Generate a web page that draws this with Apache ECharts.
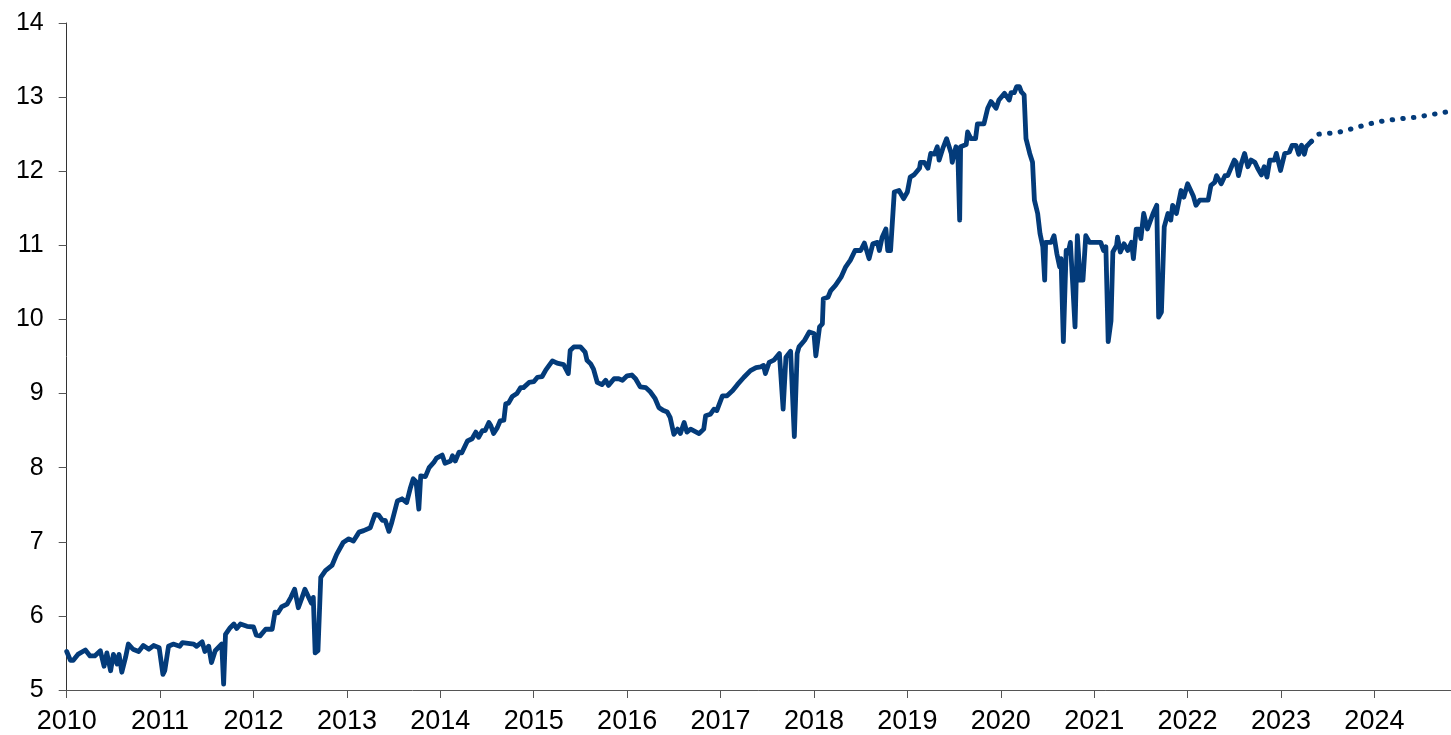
<!DOCTYPE html>
<html>
<head>
<meta charset="utf-8">
<script src="https://cdn.jsdelivr.net/npm/echarts@6/dist/echarts.min.js"></script>
<style>
html,body{margin:0;padding:0;background:#fff;}
#chart{width:1451px;height:735px;}
</style>
</head>
<body>
<div id="chart"></div>
<script>
// Actual series (decimal years and values)
const actualYears = [
2010.00,2010.04,2010.07,2010.12,2010.20,2010.25,2010.30,2010.36,2010.37,2010.40,2010.43,2010.47,2010.50,2010.54,2010.56,2010.59,2010.63,2010.66,2010.71,2010.77,2010.82,2010.88,2010.93,2010.99,
2011.03,2011.05,2011.09,2011.14,2011.21,2011.24,2011.36,2011.39,2011.45,2011.48,2011.52,2011.55,2011.59,2011.66,2011.68,2011.70,2011.75,2011.79,2011.82,2011.86,2011.93,
2012.00,2012.03,2012.07,2012.13,2012.20,2012.23,2012.26,2012.30,2012.36,2012.40,2012.44,2012.48,2012.52,2012.55,2012.59,2012.62,2012.64,2012.66,2012.69,2012.72,2012.77,2012.84,2012.89,2012.96,
2013.02,2013.07,2013.13,2013.18,2013.25,2013.30,2013.34,2013.38,2013.41,2013.45,2013.48,2013.54,2013.59,2013.64,2013.68,2013.71,2013.74,2013.77,2013.79,2013.84,2013.88,2013.93,2013.96,
2014.02,2014.05,2014.11,2014.13,2014.16,2014.20,2014.23,2014.29,2014.34,2014.38,2014.41,2014.45,2014.48,2014.52,2014.54,2014.57,2014.61,2014.64,2014.68,2014.70,2014.73,2014.77,2014.82,2014.86,2014.89,2014.95,
2015.00,2015.04,2015.09,2015.13,2015.20,2015.25,2015.32,2015.37,2015.39,2015.43,2015.50,2015.55,2015.57,2015.61,2015.64,2015.68,2015.73,2015.77,2015.80,2015.86,2015.91,2015.95,
2016.00,2016.05,2016.09,2016.14,2016.20,2016.25,2016.30,2016.34,2016.39,2016.43,2016.46,2016.50,2016.54,2016.57,2016.61,2016.64,2016.68,2016.71,2016.77,2016.82,2016.84,2016.89,2016.93,2016.96,
2017.02,2017.07,2017.13,2017.18,2017.25,2017.32,2017.38,2017.43,2017.46,2017.48,2017.52,2017.57,2017.63,2017.65,2017.67,2017.70,2017.75,2017.79,2017.82,2017.84,2017.90,2017.95,
2018.00,2018.02,2018.06,2018.09,2018.10,2018.15,2018.18,2018.23,2018.29,2018.34,2018.39,2018.44,2018.50,2018.54,2018.59,2018.63,2018.68,2018.70,2018.73,2018.77,2018.79,2018.82,2018.86,2018.91,2018.96,
2019.00,2019.03,2019.07,2019.13,2019.14,2019.18,2019.22,2019.25,2019.29,2019.32,2019.34,2019.38,2019.42,2019.47,2019.48,2019.52,2019.54,2019.56,2019.57,2019.63,2019.645,2019.68,2019.73,2019.75,2019.82,2019.86,2019.895,2019.95,2019.98,
2020.04,2020.09,2020.11,2020.145,2020.17,2020.20,2020.22,2020.25,2020.27,2020.31,2020.34,2020.36,2020.395,2020.42,2020.45,2020.47,2020.48,2020.54,2020.57,2020.60,2020.63,2020.645,2020.67,2020.70,2020.72,2020.745,2020.77,2020.795,2020.82,2020.85,2020.88,2020.91,2020.95,
2021.07,2021.10,2021.125,2021.15,2021.18,2021.20,2021.24,2021.25,2021.28,2021.32,2021.36,2021.40,2021.42,2021.45,2021.48,2021.50,2021.53,2021.57,2021.63,2021.67,2021.69,2021.72,2021.75,2021.79,2021.82,2021.84,2021.88,2021.93,2021.96,
2022.00,2022.06,2022.09,2022.13,2022.22,2022.25,2022.29,2022.31,2022.36,2022.40,2022.43,2022.47,2022.50,2022.52,2022.545,2022.575,2022.61,2022.645,2022.68,2022.72,2022.75,2022.79,2022.82,2022.85,2022.88,2022.93,2022.95,2022.995,
2023.04,2023.09,2023.12,2023.16,2023.19,2023.22,2023.25,2023.27,2023.30,2023.325
];
const actualValues = [
5.52,5.40,5.40,5.48,5.54,5.46,5.46,5.53,5.55,5.32,5.50,5.26,5.48,5.35,5.48,5.24,5.44,5.62,5.55,5.52,5.60,5.55,5.60,5.57,
5.21,5.26,5.59,5.62,5.59,5.64,5.62,5.59,5.65,5.52,5.59,5.37,5.53,5.62,5.08,5.75,5.84,5.89,5.83,5.89,5.86,
5.85,5.74,5.73,5.82,5.82,6.05,6.04,6.12,6.16,6.25,6.36,6.11,6.25,6.36,6.25,6.17,6.25,5.50,5.53,6.52,6.61,6.68,6.83,6.99,
7.04,7.01,7.13,7.15,7.19,7.37,7.36,7.29,7.29,7.14,7.26,7.55,7.58,7.53,7.73,7.85,7.81,7.44,7.89,7.88,8.00,8.07,8.13,
8.17,8.06,8.09,8.16,8.09,8.21,8.20,8.36,8.39,8.48,8.41,8.50,8.50,8.61,8.57,8.46,8.54,8.63,8.64,8.86,8.87,8.96,9.00,9.08,9.08,9.15,
9.16,9.22,9.23,9.32,9.44,9.41,9.39,9.27,9.58,9.63,9.63,9.56,9.45,9.40,9.33,9.15,9.12,9.18,9.11,9.20,9.20,9.18,
9.24,9.25,9.20,9.09,9.08,9.02,8.93,8.81,8.77,8.75,8.68,8.45,8.52,8.46,8.61,8.48,8.52,8.50,8.46,8.52,8.70,8.72,8.79,8.77,
8.97,8.97,9.04,9.12,9.22,9.31,9.35,9.36,9.38,9.27,9.42,9.45,9.54,9.54,8.79,9.49,9.57,8.42,9.54,9.63,9.72,9.83,
9.81,9.51,9.90,9.94,10.28,10.30,10.39,10.46,10.57,10.71,10.80,10.93,10.93,11.03,10.82,11.02,11.04,10.93,11.11,11.22,10.93,10.93,11.72,11.74,11.63,
11.72,11.92,11.95,12.04,12.12,12.12,12.04,12.24,12.23,12.33,12.15,12.31,12.44,12.24,12.12,12.33,12.26,11.34,12.33,12.36,12.53,12.44,12.44,12.64,12.64,12.85,12.94,12.85,12.96,
13.05,12.96,13.06,13.06,13.14,13.14,13.07,13.03,12.44,12.24,12.12,11.61,11.43,11.16,10.98,10.53,11.04,11.04,11.13,10.89,10.71,10.82,9.70,10.93,10.89,11.04,10.48,9.90,11.13,10.53,10.53,11.13,11.04,
11.04,10.93,10.98,9.70,9.98,10.91,11.00,11.11,10.91,11.02,10.93,11.04,10.82,11.22,11.22,11.09,11.43,11.22,11.43,11.54,10.03,10.10,11.25,11.43,11.34,11.54,11.43,11.74,11.65,
11.83,11.67,11.54,11.61,11.61,11.81,11.85,11.94,11.83,11.94,11.94,12.06,12.15,12.12,11.94,12.10,12.24,12.06,12.15,12.12,12.04,11.95,12.06,11.92,12.15,12.15,12.24,12.01,
12.24,12.26,12.35,12.35,12.23,12.35,12.23,12.33,12.37,12.40
];
// Forecast (dotted) series
const forecastYears  = [2023.325, 2023.40, 2023.60, 2023.72, 2023.95, 2024.10, 2024.30, 2024.45, 2024.64, 2024.82];
const forecastValues = [12.40, 12.50, 12.52, 12.56, 12.64, 12.68, 12.71, 12.73, 12.77, 12.81];
// Axis ticks
const yearTicks = [2010,2011,2012,2013,2014,2015,2016,2017,2018,2019,2020,2021,2022,2023,2024];
const valueTicks = [5,6,7,8,9,10,11,12,13,14];
const xAxisEnd = 2024.82;

const actualData = actualYears.map((y, i) => [y, actualValues[i]]);
const forecastData = forecastYears.map((y, i) => [y, forecastValues[i]]);

const lineColor = '#033b7a';
const font = 'Arial, "Liberation Sans", Helvetica, sans-serif';

const chart = echarts.init(document.getElementById('chart'), null, {renderer: 'canvas'});
chart.setOption({
  animation: false,
  backgroundColor: '#ffffff',
  grid: {left: 66.7, right: 0, top: 23, bottom: 42.7, containLabel: false},
  xAxis: {
    type: 'value',
    min: yearTicks[0],
    max: xAxisEnd,
    interval: 1,
    axisLine: {show: true, lineStyle: {color: '#555', width: 1}},
    axisTick: {show: true, length: 8, inside: false, lineStyle: {color: '#555'}},
    axisLabel: {
      margin: 18, fontSize: 27, color: '#000', fontFamily: font,
      showMaxLabel: false,
      formatter: v => (Math.abs(v - Math.round(v)) < 1e-6 && yearTicks.indexOf(Math.round(v)) >= 0) ? String(Math.round(v)) : ''
    },
    splitLine: {show: false}
  },
  yAxis: {
    type: 'value',
    min: valueTicks[0],
    max: valueTicks[valueTicks.length - 1],
    interval: 1,
    axisLine: {show: true, lineStyle: {color: '#333', width: 1}},
    axisTick: {show: true, length: 8, lineStyle: {color: '#555'}},
    axisLabel: {margin: 23, fontSize: 25, color: '#000', fontFamily: font},
    splitLine: {show: false}
  },
  series: [
    {
      type: 'line',
      data: actualData,
      showSymbol: false,
      symbol: 'none',
      lineStyle: {color: lineColor, width: 4.8, join: 'round', cap: 'round'},
      z: 3
    },
    {
      type: 'line',
      data: forecastData,
      showSymbol: false,
      symbol: 'none',
      lineStyle: {color: lineColor, width: 5, type: [0.5, 10.2], cap: 'round'},
      z: 2
    }
  ]
});
</script>
</body>
</html>
